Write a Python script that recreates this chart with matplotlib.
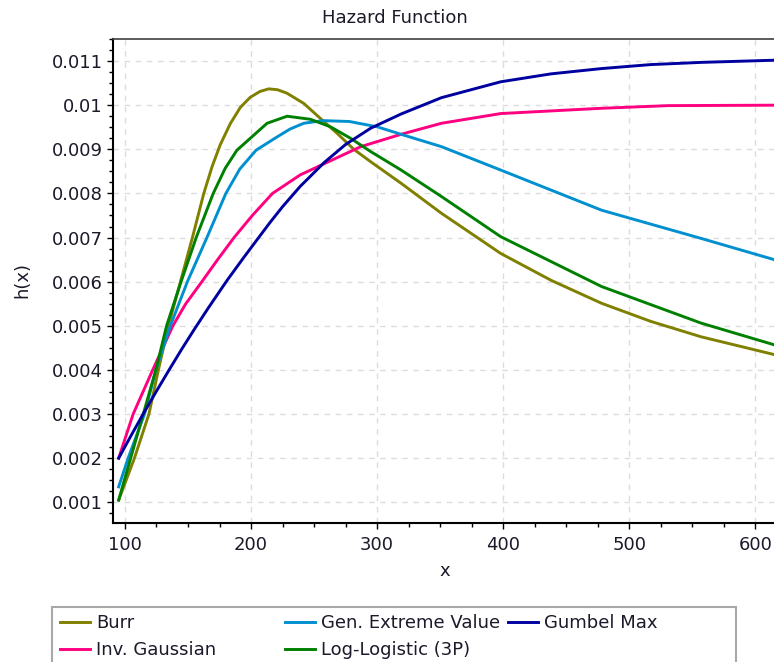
import matplotlib.pyplot as plt
from matplotlib.patches import Rectangle
from matplotlib.ticker import MultipleLocator

# values
burr_x = [95, 107.5, 119, 126.5, 134.5, 144, 153.5, 162.5, 169, 175.5, 183.5, 191.5, 199.4, 207,
          214, 221, 228.6, 241.8, 255, 268.3, 281.5, 294.8, 319, 351, 398, 438, 478, 517, 557, 616]
burr_y = [0.00105, 0.0020, 0.0030, 0.0040, 0.0050, 0.0060, 0.0070, 0.0080, 0.0086, 0.0091,
          0.00958, 0.00995, 0.01018, 0.01031, 0.01037, 0.01035, 0.01027, 0.01004, 0.0097, 0.00936,
          0.0090, 0.00872, 0.00823, 0.00755, 0.00664, 0.00603, 0.00551, 0.0051, 0.00475, 0.00434]

gev_x = [95, 102.5, 115.5, 124.5, 136, 149.5, 165, 180, 191, 204, 220.6, 231, 241.8, 257, 278,
         300, 319, 351, 398, 478, 557, 616]
gev_y = [0.00135, 0.0020, 0.0030, 0.0040, 0.0050, 0.0060, 0.0070, 0.0080, 0.00855, 0.00898,
         0.00928, 0.00946, 0.00959, 0.00965, 0.00963, 0.00951, 0.00934, 0.00906, 0.00853, 0.00762,
         0.00698, 0.00649]

gumbel_x = [95, 105, 115, 125, 135, 145, 155, 166, 181, 194, 205, 215, 225, 239, 258, 275, 295,
            319, 351, 398, 438, 478, 517, 557, 616]
gumbel_y = [0.0020, 0.00252, 0.00303, 0.00352, 0.0040, 0.00447, 0.00492, 0.0054, 0.00603,
            0.00654, 0.00696, 0.00734, 0.0077, 0.00816, 0.0087, 0.00911, 0.00948, 0.0098, 0.01017,
            0.01053, 0.01071, 0.01083, 0.01092, 0.01097, 0.01102]

invg_x = [95, 106.5, 122, 138, 148, 161, 173.5, 186.5, 201, 217, 239, 287, 319, 351, 398, 478,
          531, 616]
invg_y = [0.0020, 0.0030, 0.0040, 0.0050, 0.00549, 0.0060, 0.0065, 0.0070, 0.0075, 0.0080,
          0.00842, 0.00906, 0.00934, 0.00959, 0.00981, 0.00993, 0.00999, 0.0100]

loglog_x = [95, 104.5, 114.5, 124.5, 133, 144.5, 156.5, 170, 179.5, 188.8, 199.4, 212.7, 228.6,
            247.1, 263, 278.9, 294.8, 319, 351, 398, 478, 557, 616]
loglog_y = [0.00105, 0.0020, 0.0030, 0.0040, 0.0050, 0.0060, 0.0070, 0.0080, 0.00857, 0.00898,
            0.00925, 0.00959, 0.00975, 0.00968, 0.00951, 0.00925, 0.00895, 0.00853, 0.00793,
            0.00702, 0.00589, 0.00506, 0.00456]

series = [
    ("Burr", burr_x, burr_y, "#808000"),
    ("Inv. Gaussian", invg_x, invg_y, "#ff0080"),
    ("Gen. Extreme Value", gev_x, gev_y, "#0090d0"),
    ("Log-Logistic (3P)", loglog_x, loglog_y, "#008000"),
    ("Gumbel Max", gumbel_x, gumbel_y, "#0000a0"),
]

W, H = 774, 662
fig = plt.figure(figsize=(W / 100, H / 100), dpi=100)
ax = fig.add_axes([113 / W, 1 - 523 / H, 1 - 113 / W + 0.002, (523 - 39) / H])

lines = {}
for name, xs, ys, col in series:
    lines[name], = ax.plot(xs, ys, color=col, lw=2.1, solid_joinstyle="round")

ax.set_xlim(90.5, 616)
ax.set_ylim(0.00053, 0.0115)
ax.xaxis.set_major_locator(MultipleLocator(100))
ax.xaxis.set_minor_locator(MultipleLocator(25))
ax.yaxis.set_minor_locator(MultipleLocator(0.00025))
ax.set_yticks([i / 1000 for i in range(1, 12)])
ax.set_yticklabels(["0.001", "0.002", "0.003", "0.004", "0.005", "0.006", "0.007", "0.008",
                    "0.009", "0.01", "0.011"])

ax.grid(True, which="major", color="#dcdcdc", ls=(0, (4, 4)), lw=1)
ax.tick_params(which="major", direction="out", length=4.5, width=1, labelsize=13,
               labelcolor="#1a1a2a", pad=3)
ax.tick_params(which="minor", direction="out", length=3, width=1)
ax.tick_params(axis="x", pad=5)
for s in ["left", "bottom"]:
    ax.spines[s].set_linewidth(1.5)
ax.spines["top"].set_color("#404040")
ax.spines["top"].set_linewidth(1.2)
ax.spines["right"].set_visible(False)

fig.text(395 / W, 1 - 18 / H, "Hazard Function", ha="center", va="center", fontsize=13,
         color="#1a1a2a")
fig.text(445 / W, 1 - 571 / H, "x", ha="center", va="center", fontsize=13, color="#1a1a2a")
fig.text(22 / W, 1 - 280 / H, "h(x)", ha="center", va="center", rotation=90, fontsize=13,
         color="#1a1a2a")

# legend frame, cut off by the bottom edge like the reference
fig.patches.append(Rectangle((52 / W, -0.02), (736 - 52) / W, (662 - 607) / H + 0.02,
                             transform=fig.transFigure, fill=False, ec="#a8a8a8", lw=1.5))

cols = [(["Burr", "Inv. Gaussian"], 60), (["Gen. Extreme Value", "Log-Logistic (3P)"], 285),
        (["Gumbel Max"], 508)]
for names, x0 in cols:
    fig.legend([lines[n] for n in names], names, loc="upper left",
               bbox_to_anchor=(x0 / W, 1 - 614 / H), frameon=False, borderpad=0,
               borderaxespad=0, handlelength=1.65, handletextpad=0.35, labelspacing=0.5,
               fontsize=13, labelcolor="#1a1a2a")

fig.savefig("out.png", dpi=100)
